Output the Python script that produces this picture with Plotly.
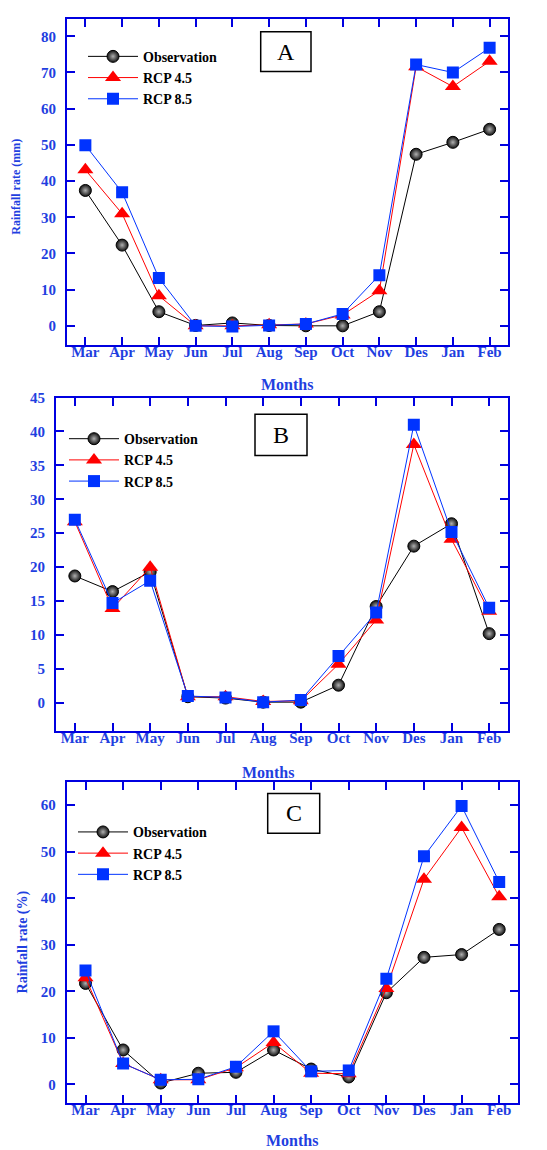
import plotly.graph_objects as go

months = ["Mar", "Apr", "May", "Jun", "Jul", "Aug", "Sep", "Oct", "Nov", "Des", "Jan", "Feb"]

# Panel A - Rainfall rate (mm)
a_obs = [37.4, 22.3, 3.9, 0.1, 0.8, 0.1, 0.0, 0.0, 3.9, 47.4, 50.7, 54.3]
a_rcp45 = [43.1, 31.0, 8.3, 0.0, 0.0, 0.3, 0.5, 3.0, 9.7, 71.6, 66.1, 73.1]
a_rcp85 = [49.9, 36.9, 13.2, 0.0, -0.2, 0.1, 0.5, 3.3, 14.0, 72.2, 70.0, 76.8]

# Panel B
b_obs = [18.7, 16.4, 19.3, 0.9, 0.7, 0.1, 0.1, 2.6, 14.2, 23.1, 26.4, 10.2]
b_rcp45 = [26.7, 13.9, 20.0, 0.9, 0.9, 0.2, 0.3, 5.7, 12.2, 38.1, 24.1, 13.5]
b_rcp85 = [27.0, 14.7, 18.0, 1.0, 0.8, 0.1, 0.4, 6.9, 13.3, 41.0, 25.2, 14.0]

# Panel C - Rainfall rate (%)
c_obs = [21.7, 7.4, 0.3, 2.4, 2.6, 7.4, 3.3, 1.6, 19.7, 27.3, 27.9, 33.3]
c_rcp45 = [22.9, 4.5, 1.0, 1.0, 3.6, 9.0, 2.4, 2.3, 20.6, 44.1, 55.2, 40.3]
c_rcp85 = [24.5, 4.5, 1.0, 1.1, 3.8, 11.4, 2.8, 3.0, 22.7, 49.0, 59.8, 43.5]

panel_labels = ["A", "B", "C"]
series_names = ["Observation", "RCP 4.5", "RCP 8.5"]

W, H = 547, 1150
BLUE_TXT = "#1f3fe0"
AXIS_BLUE = "#0000e0"
SERIF = "Liberation Serif, Times New Roman, serif"

def px(x):
    return x / W

def py(y):
    return 1 - y / H

fig = go.Figure()

styles = [
    dict(color="black", marker=dict(symbol="circle", size=12, color="#111111",
                                    gradient=dict(type="radial", color="#b0b0b0"),
                                    line=dict(color="black", width=1))),
    dict(color="#ff0000", marker=dict(symbol="triangle-up", size=14, color="#ff0000",
                                      line=dict(width=0))),
    dict(color="#0033ff", marker=dict(symbol="square", size=12, color="#0033ff",
                                      line=dict(width=0))),
]

panels = [
    (a_obs, a_rcp45, a_rcp85),
    (b_obs, b_rcp45, b_rcp85),
    (c_obs, c_rcp45, c_rcp85),
]

for pi, data in enumerate(panels):
    xa = "x" if pi == 0 else f"x{pi+1}"
    ya = "y" if pi == 0 else f"y{pi+1}"
    lg = "legend" if pi == 0 else f"legend{pi+1}"
    for si, vals in enumerate(data):
        st = styles[si]
        fig.add_trace(go.Scatter(
            x=months, y=vals, mode="lines+markers", name=series_names[si],
            line=dict(color=st["color"], width=1), marker=st["marker"],
            xaxis=xa, yaxis=ya, legend=lg, showlegend=True,
        ))

# geometry in pixels: (left, right, top, bottom)
geo = [(67, 508, 11, 339), (56, 508, 392.3, 727.7), (66.7, 518, 779.3, 1102.7)]
yranges = [[-5.2, 84.8], [-4.1, 45.0], [-4.0, 65.0]]
ydticks = [10, 5, 10]

axis_common = dict(showline=True, linecolor=AXIS_BLUE, linewidth=2, mirror="ticks",
                   ticks="inside", ticklen=8, tickwidth=2, tickcolor=AXIS_BLUE,
                   showgrid=False, zeroline=False,
                   tickfont=dict(family=SERIF, size=15, color=BLUE_TXT, weight="bold"))

layout = dict(width=W, height=H, margin=dict(l=0, r=0, t=0, b=0),
              paper_bgcolor="white", plot_bgcolor="white", showlegend=True)

for pi, (l, r, t, b) in enumerate(geo):
    xk = "xaxis" if pi == 0 else f"xaxis{pi+1}"
    yk = "yaxis" if pi == 0 else f"yaxis{pi+1}"
    ya = "y" if pi == 0 else f"y{pi+1}"
    xa = "x" if pi == 0 else f"x{pi+1}"
    layout[xk] = dict(domain=[px(l), px(r)], anchor=ya, range=[-0.5, 11.5],
                      type="category", ticklabelstandoff=-8, **axis_common)
    layout[yk] = dict(domain=[py(b), py(t)], anchor=xa, range=yranges[pi],
                      dtick=ydticks[pi], tick0=0, ticklabelstandoff=6, **axis_common)

legend_common = dict(bgcolor="rgba(0,0,0,0)", borderwidth=0, itemwidth=50,
                     font=dict(family=SERIF, size=14, color="black", weight="bold"),
                     xanchor="left", yanchor="top", tracegroupgap=0,
                     itemclick=False)
leg_pos = [(83, 33), (64, 418), (73, 814)]
for pi, (lx, ly) in enumerate(leg_pos):
    k = "legend" if pi == 0 else f"legend{pi+1}"
    layout[k] = dict(x=px(lx), y=py(ly), **legend_common)

fig.update_layout(**layout)

# Panel label boxes
boxes = [(260.7, 311, 24, 64), (255, 307, 409, 450.7), (267.7, 319.7, 791, 831)]
for pi, (x0, x1, y0, y1) in enumerate(boxes):
    fig.add_shape(type="rect", xref="paper", yref="paper",
                  x0=px(x0), x1=px(x1), y0=py(y1), y1=py(y0),
                  line=dict(color="black", width=1.5), fillcolor="white")
    fig.add_annotation(text=panel_labels[pi], xref="paper", yref="paper",
                       x=px((x0 + x1) / 2), y=py((y0 + y1) / 2),
                       xanchor="center", yanchor="middle", showarrow=False,
                       font=dict(family=SERIF, size=24, color="black"))

# Axis titles
for cx, cy in [(287, 379), (268, 770), (292, 1140.7)]:
    fig.add_annotation(text="Months", xref="paper", yref="paper",
                       x=px(cx), y=py(cy), xanchor="center", yanchor="middle",
                       showarrow=False,
                       font=dict(family=SERIF, size=16, color=BLUE_TXT, weight="bold"))

fig.add_annotation(text="Rainfall rate (mm)", xref="paper", yref="paper",
                   x=px(16), y=py(180), xanchor="center", yanchor="middle",
                   textangle=-90, showarrow=False,
                   font=dict(family=SERIF, size=12, color=BLUE_TXT, weight="bold"))
fig.add_annotation(text="Rainfall rate (%)", xref="paper", yref="paper",
                   x=px(23), y=py(941), xanchor="center", yanchor="middle",
                   textangle=-90, showarrow=False,
                   font=dict(family=SERIF, size=14, color=BLUE_TXT, weight="bold"))

fig.write_html("out.html")
